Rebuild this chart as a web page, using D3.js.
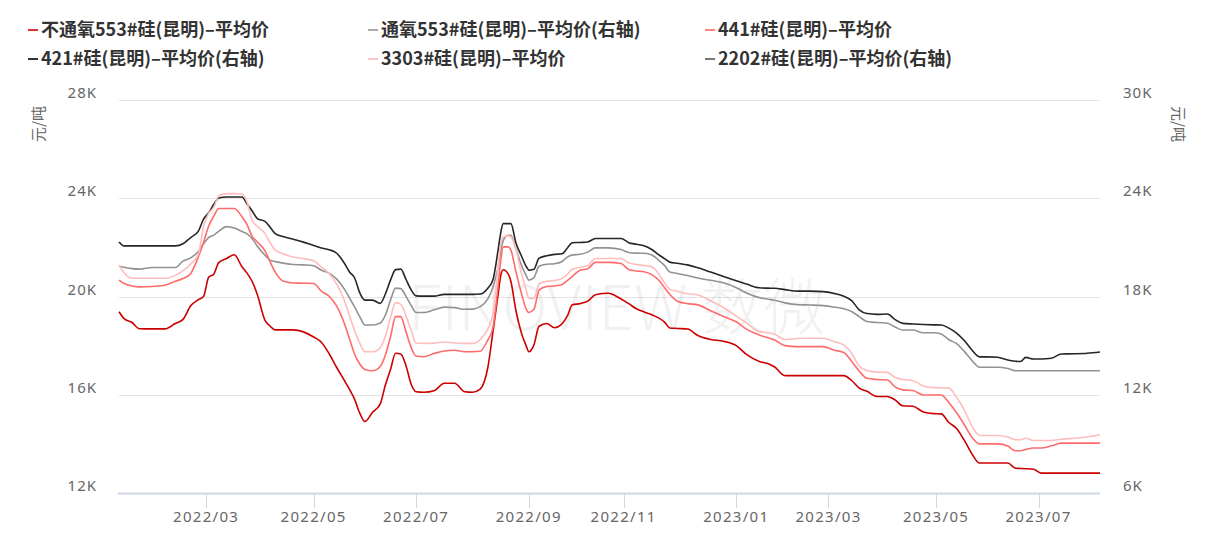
<!DOCTYPE html>
<html>
<head>
<meta charset="utf-8">
<script src="https://cdn.jsdelivr.net/npm/d3@7"></script>
<style>
  html, body { margin: 0; padding: 0; background: #ffffff; }
  svg { display: block; }
</style>
</head>
<body>
<svg id="chart" width="1207" height="538"></svg>
<script>
// ---------------- DATA ----------------
const startDate = "2022-01-05";
const endDate = "2023-08-04";
const holidays = ["2022-01-31","2022-02-01","2022-02-02","2022-02-03","2022-02-04",
  "2022-04-04","2022-04-05","2022-05-02","2022-05-03","2022-05-04","2022-06-03",
  "2022-09-12","2022-10-03","2022-10-04","2022-10-05","2022-10-06","2022-10-07",
  "2023-01-02","2023-01-23","2023-01-24","2023-01-25","2023-01-26","2023-01-27",
  "2023-04-05","2023-05-01","2023-05-02","2023-05-03","2023-06-22","2023-06-23"];

const tickMonths = ["2022/03","2022/05","2022/07","2022/09","2022/11","2023/01","2023/03","2023/05","2023/07"];
const leftTicks = [12000, 16000, 20000, 24000, 28000];
const rightTicks = [6000, 12000, 18000, 24000, 30000];

const sampleDates = [
 "2022-01-05","2022-01-07","2022-01-12","2022-01-17","2022-01-24","2022-02-07","2022-02-11","2022-02-16","2022-02-21","2022-02-24",
 "2022-02-28","2022-03-02","2022-03-04","2022-03-08","2022-03-11","2022-03-16","2022-03-21","2022-03-23","2022-03-25","2022-03-29",
 "2022-04-01","2022-04-07","2022-04-11","2022-04-14","2022-04-20","2022-04-26","2022-05-05","2022-05-10","2022-05-13","2022-05-18",
 "2022-05-23","2022-05-25","2022-05-27","2022-05-31","2022-06-02","2022-06-08","2022-06-13","2022-06-15","2022-06-17","2022-06-21",
 "2022-06-23","2022-06-27","2022-06-29","2022-07-01","2022-07-06","2022-07-12","2022-07-18","2022-07-22","2022-07-28","2022-08-02",
 "2022-08-05","2022-08-10","2022-08-12","2022-08-16","2022-08-17","2022-08-18","2022-08-22","2022-08-23","2022-08-25","2022-08-29",
 "2022-08-31","2022-09-01","2022-09-05","2022-09-07","2022-09-13","2022-09-16","2022-09-21","2022-09-23","2022-09-27","2022-09-30",
 "2022-10-12","2022-10-17","2022-10-24","2022-10-31","2022-11-03","2022-11-08","2022-11-11","2022-11-16","2022-11-21","2022-11-23",
 "2022-11-25","2022-11-30","2022-12-06","2022-12-12","2022-12-19","2022-12-26","2023-01-03","2023-01-09","2023-01-16","2023-01-19",
 "2023-01-31","2023-02-06","2023-02-13","2023-02-20","2023-02-27","2023-03-03","2023-03-09","2023-03-14","2023-03-17","2023-03-22",
 "2023-03-28","2023-04-03","2023-04-07","2023-04-12","2023-04-18","2023-04-24","2023-04-28","2023-05-08","2023-05-11","2023-05-16",
 "2023-05-19","2023-05-24","2023-05-29","2023-06-01","2023-06-07","2023-06-13","2023-06-16","2023-06-20","2023-06-26","2023-06-29",
 "2023-07-04","2023-07-10","2023-07-14","2023-07-21","2023-07-28","2023-08-04"];

// 不通氧553#硅(昆明)-平均价 (left axis)
const si553 = [
 19380,19100,18950,18690,18680,18680,18900,19070,19620,19870,
 20000,20780,20910,21390,21550,21700,21210,20950,20610,20080,
 19030,18790,18640,18640,18640,18560,18350,18140,17680,17110,
 16580,16220,15810,15250,14910,15290,15630,16400,17030,17690,
 17660,17200,16450,16120,16100,16160,16470,16470,16120,16100,
 16230,17110,18570,20070,20830,21090,20910,20610,19410,18550,
 17980,17750,18030,18790,18900,18730,18890,19200,19660,19710,
 19810,20070,20130,19900,19710,19500,19370,19260,19110,18960,
 18720,18700,18680,18410,18250,18180,18000,17640,17350,17280,
 17130,16780,16780,16780,16780,16780,16780,16580,16270,16140,
 15930,15930,15790,15550,15530,15300,15230,15220,14870,14630,
 14150,13590,13220,13220,13220,13220,13010,13000,12990,12970,
 12810,12810,12810,12810,12810,12810];

// 通氧553#硅(昆明)-平均价 (right axis)
const si553o = [
 19850,19790,19700,19670,19770,19770,19770,20160,20360,20750,
 21210,21600,21750,21990,22270,22180,21970,21830,21530,21070,
 20520,20220,20130,20040,19950,19930,19880,19600,19430,19060,
 18450,17910,17350,16770,16260,16260,16380,16870,17780,18510,
 18480,18020,17470,17020,17020,17190,17350,17320,17220,17230,
 17380,17860,18570,19790,20740,21410,21740,21740,20900,19960,
 19270,19000,19150,19850,19970,20000,20140,20400,20540,20580,
 20710,20970,20970,20870,20690,20650,20640,20530,20180,19890,
 19500,19410,19280,19130,18990,18840,18540,18210,17930,17850,
 17770,17610,17500,17480,17440,17360,17250,17080,16770,16470,
 16410,16370,16140,15950,15950,15790,15790,15710,15360,15120,
 14650,14090,13680,13680,13680,13600,13470,13470,13470,13470,
 13470,13470,13470,13470,13470,13470];

// 441#硅(昆明)-平均价 (left axis)
const si441 = [
 20670,20530,20430,20390,20410,20460,20620,20730,20940,21620,
 22210,22860,23270,23580,23580,23580,23250,22930,22450,22220,
 21860,21410,20990,20630,20550,20540,20530,20220,20010,19610,
 18900,18270,17650,17250,17030,16980,17150,17620,18360,19180,
 19180,18580,17940,17570,17550,17680,17780,17810,17750,17750,
 17770,18230,18730,20430,21430,22020,22020,21890,20990,20170,
 19480,19350,19480,20260,20410,20430,20490,20650,20820,21070,
 21130,21390,21390,21340,21100,21040,21010,20890,20630,20360,
 20090,19810,19710,19660,19420,19190,18970,18670,18430,18330,
 18230,18000,17960,17960,17960,17820,17720,17360,16960,16670,
 16620,16600,16320,16200,16170,15990,15990,15990,15680,15270,
 14790,14270,14000,14000,14000,13910,13720,13720,13770,13830,
 13830,13920,14030,14030,14030,14030];

// 421#硅(昆明)-平均价 (right axis)
const si421 = [
 21330,21090,21090,21090,21090,21090,21090,21220,21600,21990,
 22720,23110,23630,24020,24080,24080,24080,23650,23220,22760,
 22590,22230,21840,21660,21500,21320,21110,20960,20860,20640,
 20030,19500,19130,18220,17780,17780,17580,18150,19000,19640,
 19670,19060,18420,18040,18020,18020,18130,18130,18130,18130,
 18150,18510,19020,20830,21860,22450,22450,22450,21250,20520,
 19830,19610,19670,20340,20490,20570,20610,20950,21280,21300,
 21330,21540,21540,21540,21290,21190,21100,20870,20520,20310,
 20100,20030,19930,19750,19490,19220,18960,18760,18530,18510,
 18500,18420,18330,18330,18300,18190,18020,17750,17190,16960,
 16910,16930,16590,16360,16320,16290,16270,16260,16070,15770,
 15310,14730,14310,14310,14290,14120,14050,14030,14280,14180,
 14180,14230,14490,14500,14530,14610];

// 3303#硅(昆明)-平均价 (left axis)
const si3303 = [
 21280,20970,20740,20740,20740,20740,20860,21050,21320,21720,
 22860,23390,23630,24100,24190,24190,24170,23840,23090,22860,
 22560,22190,21890,21740,21610,21540,21460,21200,20940,20500,
 19840,19210,18610,18100,17750,17750,17920,18380,19140,19750,
 19680,19230,18640,18110,18090,18100,18150,18110,18090,18090,
 18240,18680,19290,21210,22090,22430,22470,22430,21930,20990,
 20250,19930,19920,20510,20620,20650,20740,20900,21110,21190,
 21260,21550,21550,21550,21370,21300,21260,21210,20880,20550,
 20300,20210,20110,20060,19830,19550,19200,18920,18570,18530,
 18460,18250,18290,18300,18300,18170,18020,17700,17160,16990,
 16920,16910,16700,16620,16570,16360,16290,16280,16270,15900,
 15380,14730,14340,14340,14340,14280,14170,14170,14230,14140,
 14140,14140,14190,14230,14280,14370];

// 2202#硅(昆明)-平均价 (right axis) — no quotes drawn in this period
const si2202 = [];

const seriesNames = ["不通氧553#硅(昆明)–平均价","通氧553#硅(昆明)–平均价(右轴)","441#硅(昆明)–平均价",
  "421#硅(昆明)–平均价(右轴)","3303#硅(昆明)–平均价","2202#硅(昆明)–平均价(右轴)"];
const seriesValues = [si553, si553o, si441, si421, si3303, si2202];
const seriesAxis = ["left","right","left","right","left","right"];
const seriesColors = ["#cc0000","#929292","#ff6b6b","#262626","#ffbcbc","#666666"];
const legendIconColors = ["#dd3333","#aaaaaa","#ff8080","#333333","#ffc6c6","#777777"];

// ---------------- CHART ----------------
const svg = d3.select("#chart");
const X0 = 119, X1 = 1100, Y0 = 100, Y1 = 493;

const parse = d3.timeParse("%Y-%m-%d"), fmt = d3.timeFormat("%Y-%m-%d");
const holidaySet = new Set(holidays);
const tradingDays = d3.timeDay.range(parse(startDate), d3.timeDay.offset(parse(endDate), 1))
  .filter(d => d.getDay() !== 0 && d.getDay() !== 6 && !holidaySet.has(fmt(d)))
  .map(fmt);

const x = d3.scalePoint().domain(tradingDays).range([X0, X1]);
const yL = d3.scaleLinear().domain([12000, 28000]).range([Y1, Y0]);
const yR = d3.scaleLinear().domain([6000, 30000]).range([Y1, Y0]);

const kfmt = v => (v / 1000) + "K";
const axisFont = "'Noto Sans', 'DejaVu Sans', sans-serif";
const cjkFont = "'Noto Sans CJK SC', 'Noto Sans', sans-serif";

// grid lines
svg.append("g").selectAll("line").data(leftTicks.filter(t => t !== 12000)).join("line")
  .attr("x1", X0).attr("x2", X1)
  .attr("y1", d => Math.round(yL(d)) + 0.5).attr("y2", d => Math.round(yL(d)) + 0.5)
  .attr("stroke", "#e4e4e4").attr("stroke-width", 1);

// watermark (one single text element)
svg.append("text").attr("x", 408).attr("y", 330)
  .attr("fill", "#000").attr("fill-opacity", 0.055).attr("font-weight", 300)
  .attr("font-family", cjkFont).attr("font-size", 62)
  .attr("textLength", 418).attr("lengthAdjust", "spacingAndGlyphs")
  .text("FINOVIEW 数微");

// x axis
const xa = svg.append("g");
xa.append("line").attr("x1", X0 - 1).attr("x2", X1).attr("y1", Y1 + 0.5).attr("y2", Y1 + 0.5)
  .attr("stroke", "#cfd7e7").attr("stroke-width", 2);
const tickDays = tickMonths.map(m => tradingDays.find(d => d.startsWith(m.replace("/", "-"))));
xa.selectAll("line.tk").data(tickDays).join("line").attr("class", "tk")
  .attr("x1", d => Math.round(x(d)) + 0.5).attr("x2", d => Math.round(x(d)) + 0.5)
  .attr("y1", Y1).attr("y2", Y1 + 15)
  .attr("stroke", "#cfd7e7").attr("stroke-width", 1);
xa.selectAll("text").data(tickMonths).join("text")
  .attr("x", (m, i) => x(tickDays[i])).attr("y", 522)
  .attr("text-anchor", "middle").attr("font-family", axisFont).attr("font-size", 15)
  .attr("letter-spacing", 1.3).attr("fill", "#666").text(d => d);

// left axis labels
svg.append("g").selectAll("text").data(leftTicks).join("text")
  .attr("x", 97).attr("y", d => yL(d) - 2)
  .attr("text-anchor", "end").attr("font-family", axisFont).attr("font-size", 15)
  .attr("letter-spacing", 1).attr("fill", "#666").text(kfmt);
// right axis labels
svg.append("g").selectAll("text").data(rightTicks).join("text")
  .attr("x", 1123).attr("y", d => yR(d) - 2)
  .attr("text-anchor", "start").attr("font-family", axisFont).attr("font-size", 15)
  .attr("letter-spacing", 1).attr("fill", "#666").text(kfmt);

// unit labels
svg.append("text").attr("transform", "translate(44,124) rotate(-90)")
  .attr("text-anchor", "middle").attr("font-family", cjkFont).attr("font-size", 15)
  .attr("fill", "#666").text("元/吨");
svg.append("text").attr("transform", "translate(1173,124) rotate(90)")
  .attr("text-anchor", "middle").attr("font-family", cjkFont).attr("font-size", 15)
  .attr("fill", "#666").text("元/吨");

// lines
const lines = svg.append("g").attr("fill", "none");
seriesValues.forEach((vals, i) => {
  const ys = seriesAxis[i] === "left" ? yL : yR;
  const pts = vals.map((v, j) => [sampleDates[j], v]);
  const line = d3.line().defined(d => d[1] != null)
    .x(d => x(d[0])).y(d => ys(d[1])).curve(d3.curveMonotoneX);
  lines.append("path").datum(pts)
    .attr("d", line)
    .attr("stroke", seriesColors[i]).attr("stroke-width", 1.6)
    .attr("stroke-linejoin", "round");
});

// legend
const legendCols = [28, 368, 705];
const legendRows = [30, 59];
const lg = svg.append("g");
seriesNames.forEach((name, i) => {
  const cx = legendCols[i % 3], cy = legendRows[Math.floor(i / 3)];
  lg.append("line").attr("x1", cx).attr("x2", cx + 10).attr("y1", cy).attr("y2", cy)
    .attr("stroke", legendIconColors[i]).attr("stroke-width", 2);
  lg.append("text").attr("x", cx + 13).attr("y", cy + 6)
    .attr("font-family", cjkFont).attr("font-weight", 700).attr("font-size", 18)
    .attr("fill", "#333").text(name);
});
</script>
</body>
</html>
